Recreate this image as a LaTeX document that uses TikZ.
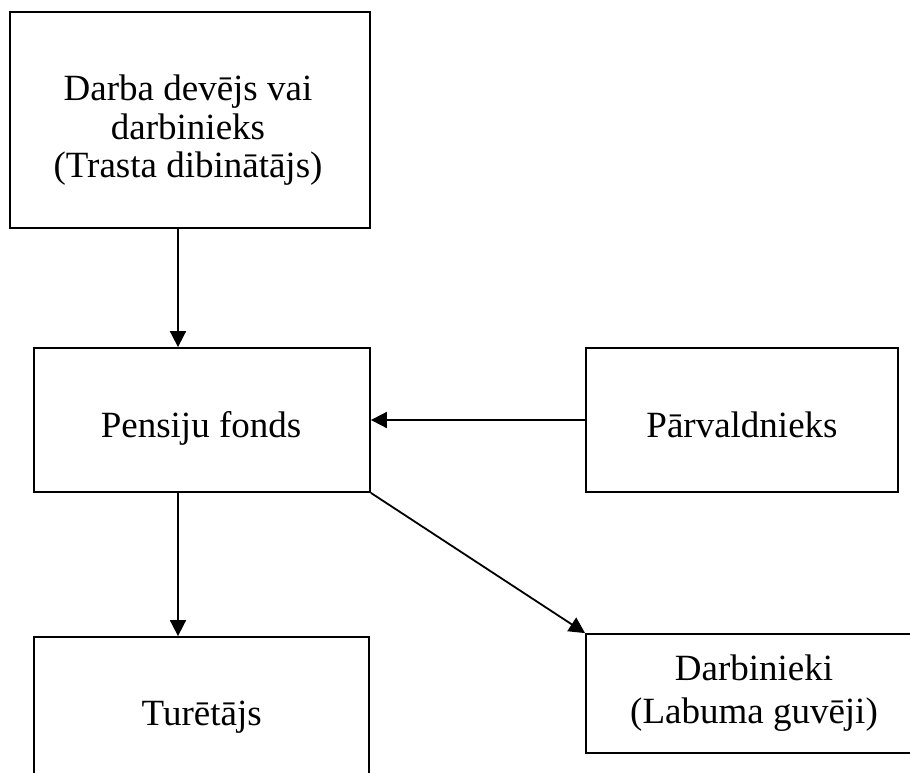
\documentclass[tikz,border=0pt]{standalone}
\usepackage{fontspec}
\setmainfont{Liberation Serif}
\usetikzlibrary{arrows.meta}
\tikzset{
  box/.style={draw=black, line width=1.8pt, inner sep=0pt, fill=none},
  lbl/.style={font=\fontsize{37}{38.5}\selectfont, inner sep=0pt, align=center, anchor=base},
  lbltwo/.style={font=\fontsize{37}{43}\selectfont, inner sep=0pt, align=center, anchor=base},
  arr/.style={line width=1.8pt, -{Triangle[length=16pt,width=16pt]}},
}
\begin{document}
\begin{tikzpicture}[x=1pt,y=-1pt]
\useasboundingbox (0,0) rectangle (910,773);
% boxes
\node[box, minimum width=360pt, minimum height=216pt] (top) at (190,120) {};
\node[box, minimum width=336pt, minimum height=144pt] (pf) at (202,420) {};
\node[box, minimum width=312pt, minimum height=144pt] (pv) at (742,420) {};
\node[box, minimum width=335pt, minimum height=152pt] (tu) at (201.5,713) {};
\node[box, minimum width=336pt, minimum height=119pt] (db) at (754,693.5) {};
% labels (base anchor = baseline of the last line)
\node[lbl] (topt) at (188,177.5) {Darba devējs vai\\darbinieks\\(Trasta dibinātājs)};
\node[lbl] (pft) at (201,437) {Pensiju fonds};
\node[lbl] (pvt) at (742,437) {Pārvaldnieks};
\node[lbl] (tut) at (201.7,725) {Turētājs};
\node[lbltwo] (dbt) at (754,723) {Darbinieki\\(Labuma guvēji)};
% connectors
\coordinate (ax) at (178,0);
\draw[arr] (top.south -| ax) -- (pf.north -| ax);
\draw[arr] (pv.west) -- (pf.east);
\draw[arr] (pf.south -| ax) -- (tu.north -| ax);
\draw[arr] (pf.south east) -- (db.north west);
\end{tikzpicture}
\end{document}
